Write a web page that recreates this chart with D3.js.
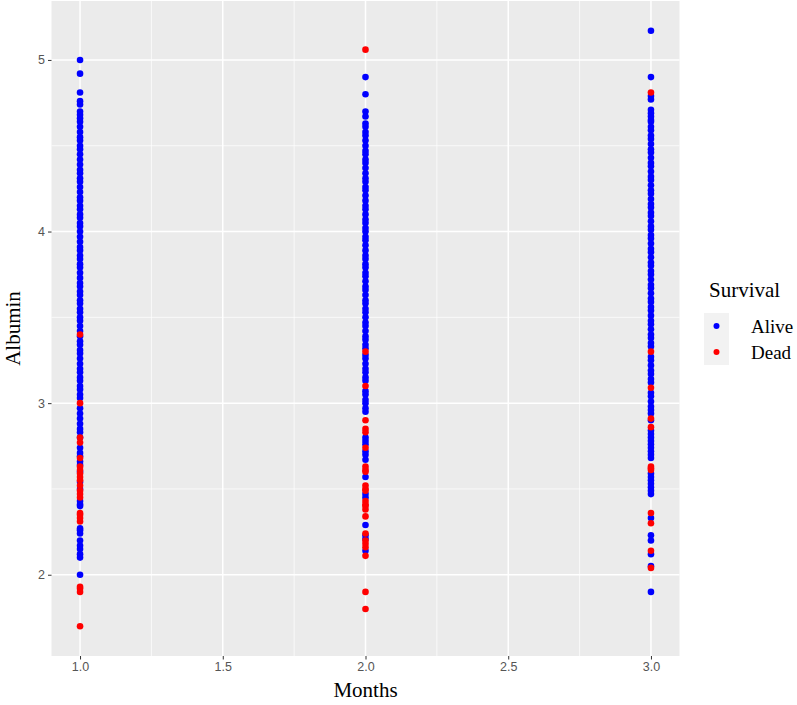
<!DOCTYPE html>
<html><head><meta charset="utf-8">
<script src="https://cdn.jsdelivr.net/npm/d3@7"></script>
<style>body{margin:0;background:#fff}svg{display:block}</style>
</head><body><svg id="c" width="797" height="705"></svg>
<script>
// ---- data ----
const categories = ["Alive", "Dead"];
const xTicks = [1.0, 1.5, 2.0, 2.5, 3.0];
const yTicks = [2, 3, 4, 5];
const xMinor = [1.25, 1.75, 2.25, 2.75];
const yMinor = [2.5, 3.5, 4.5];

const month1Alive = [5.00,4.92,4.81,4.76,4.74,4.70,4.68,4.66,4.64,
 4.61,4.58,4.55,4.53,4.50,4.48,4.45,4.42,4.39,4.36,4.34,4.31,4.29,4.26,4.23,4.20,4.18,4.15,4.13,4.10,4.08,4.05,4.03,4.00,
 3.97,3.94,3.91,3.89,3.86,3.84,3.81,3.79,3.76,3.73,3.70,3.68,3.65,3.63,3.60,3.58,3.55,3.53,3.50,3.48,3.45,3.42,3.39,3.36,
 3.34,3.31,3.29,3.26,3.23,3.20,3.18,3.15,3.13,3.10,3.08,3.05,3.03,2.97,2.94,2.91,2.88,2.85,2.83,2.80,2.74,2.71,2.69,2.66,
 2.64,2.60,2.54,2.50,2.43,2.41,2.40,2.27,2.26,2.24,2.20,2.17,2.15,2.12,2.10,2.00];
const month1Dead = [3.40,3.00,2.80,2.77,2.68,2.63,2.61,2.59,2.57,2.55,2.52,2.49,2.47,2.45,2.36,2.35,2.33,2.31,1.93,1.92,1.90,1.70];

const month2Alive = [4.90,4.80,4.70,4.67,4.63,
 4.61,4.58,4.56,4.53,4.50,4.47,4.45,4.42,4.40,4.37,4.34,4.31,4.29,4.26,4.24,4.21,4.18,4.15,4.13,4.10,4.07,4.05,4.02,4.00,
 3.97,3.95,3.92,3.89,3.86,3.84,3.81,3.79,3.76,3.74,3.71,3.68,3.66,3.63,3.60,3.58,3.55,3.53,3.50,3.47,3.45,3.42,3.39,3.37,
 3.34,3.32,3.28,3.26,3.23,3.20,3.18,3.15,3.13,3.07,3.05,3.02,3.00,2.97,2.95,2.80,2.78,2.76,2.72,2.70,2.67,2.57,2.47,2.45,
 2.29,2.23,2.21,2.14];
const month2Dead = [5.06,3.30,3.10,2.90,2.85,2.83,2.74,2.63,2.61,2.60,2.52,2.50,2.49,2.43,2.41,2.40,2.38,2.34,2.24,2.20,2.18,2.16,2.11,1.90,1.80];

const month3Alive = [5.17,4.90,4.79,4.77,4.71,4.69,4.67,4.65,4.64,
 4.61,4.59,4.56,4.54,4.51,4.48,4.46,4.43,4.40,4.38,4.35,4.32,4.30,4.27,4.24,4.22,4.19,4.16,4.14,4.11,4.09,4.06,4.03,4.01,
 3.98,3.96,3.93,3.90,3.88,3.85,3.82,3.80,3.77,3.75,3.72,3.69,3.67,3.64,3.61,3.59,3.56,3.54,3.51,3.48,3.46,3.43,3.40,3.38,
 3.35,3.33,3.27,3.25,3.22,3.19,3.17,3.14,3.12,3.06,3.04,3.01,2.98,2.96,2.94,2.90,2.84,2.82,2.80,2.78,2.76,2.74,2.72,2.70,
 2.68,2.59,2.57,2.55,2.53,2.51,2.49,2.47,2.33,2.23,2.20,2.12,2.05,1.90];
const month3Dead = [4.81,3.30,3.09,2.91,2.86,2.63,2.62,2.61,2.36,2.30,2.14,2.04];

const colors = {Alive: "#0000FF", Dead: "#FF0000"};

// table built from arrays
const series = [
  {month: 1, status: "Alive", values: month1Alive},
  {month: 2, status: "Alive", values: month2Alive},
  {month: 3, status: "Alive", values: month3Alive},
  {month: 1, status: "Dead", values: month1Dead},
  {month: 2, status: "Dead", values: month2Dead},
  {month: 3, status: "Dead", values: month3Dead}
];
const points = series.flatMap(s => s.values.map(v => ({x: s.month, y: v, status: s.status})));

// ---- layout ----
const svg = d3.select("#c");
const P = {l: 51.5, r: 679.5, t: 1, b: 656};
const allY = points.map(d => d.y);
const yMin = d3.min(allY), yMax = d3.max(allY), yPad = (yMax - yMin) * 0.05;
const x = d3.scaleLinear().domain([0.9, 3.1]).range([P.l, P.r]);
const y = d3.scaleLinear().domain([yMin - yPad, yMax + yPad]).range([P.b, P.t]);

svg.append("rect").attr("x", P.l).attr("y", P.t).attr("width", P.r - P.l).attr("height", P.b - P.t).attr("fill", "#EBEBEB");

const grid = svg.append("g");
grid.selectAll(".xm").data(xMinor).join("line").attr("x1", d => x(d)).attr("x2", d => x(d)).attr("y1", P.t).attr("y2", P.b).attr("stroke", "#fff").attr("stroke-width", 0.7);
grid.selectAll(".ym").data(yMinor).join("line").attr("y1", d => y(d)).attr("y2", d => y(d)).attr("x1", P.l).attr("x2", P.r).attr("stroke", "#fff").attr("stroke-width", 0.7);
grid.selectAll(".xM").data(xTicks).join("line").attr("x1", d => x(d)).attr("x2", d => x(d)).attr("y1", P.t).attr("y2", P.b).attr("stroke", "#fff").attr("stroke-width", 1.5);
grid.selectAll(".yM").data(yTicks).join("line").attr("y1", d => y(d)).attr("y2", d => y(d)).attr("x1", P.l).attr("x2", P.r).attr("stroke", "#fff").attr("stroke-width", 1.5);

svg.append("g").selectAll("circle").data(points).join("circle")
  .attr("cx", d => x(d.x)).attr("cy", d => y(d.y)).attr("r", 3.3)
  .attr("fill", d => colors[d.status]);

// axes
const xAxis = svg.append("g").attr("transform", `translate(0,${P.b})`)
  .call(d3.axisBottom(x).tickValues(xTicks).tickFormat(d3.format(".1f")).tickSize(3.5).tickPadding(3));
const yAxis = svg.append("g").attr("transform", `translate(${P.l},0)`)
  .call(d3.axisLeft(y).tickValues(yTicks).tickFormat(d3.format("d")).tickSize(3.5).tickPadding(3));
[xAxis, yAxis].forEach(a => {
  a.select(".domain").remove();
  a.selectAll(".tick line").attr("stroke", "#333").attr("stroke-width", 1);
  a.selectAll(".tick text").attr("fill", "#555").style("font-family", "Liberation Sans, Arial, sans-serif").style("font-size", "12.5px");
});

// axis titles
svg.append("text").attr("x", (P.l + P.r) / 2).attr("y", 697).attr("text-anchor", "middle")
  .style("font-family", "Liberation Serif, Times New Roman, serif").style("font-size", "21px").attr("fill", "#000").text("Months");
svg.append("text").attr("transform", `translate(20,${(P.t + P.b) / 2}) rotate(-90)`).attr("text-anchor", "middle")
  .style("font-family", "Liberation Serif, Times New Roman, serif").style("font-size", "21px").attr("fill", "#000").text("Albumin");

// legend
const lg = svg.append("g");
lg.append("text").attr("x", 709).attr("y", 297).style("font-family", "Liberation Serif, Times New Roman, serif").style("font-size", "21px").attr("fill", "#000").text("Survival");
const key = lg.selectAll("g.k").data(categories).join("g").attr("transform", (d, i) => `translate(704,${313 + i * 26})`);
key.append("rect").attr("width", 25).attr("height", 26).attr("fill", "#F2F2F2");
key.append("circle").attr("cx", 12.5).attr("cy", 13).attr("r", 3).attr("fill", d => colors[d]);
key.append("text").attr("x", 47).attr("y", 20).style("font-family", "Liberation Serif, Times New Roman, serif").style("font-size", "19px").attr("fill", "#000").text(d => d);
</script></body></html>
